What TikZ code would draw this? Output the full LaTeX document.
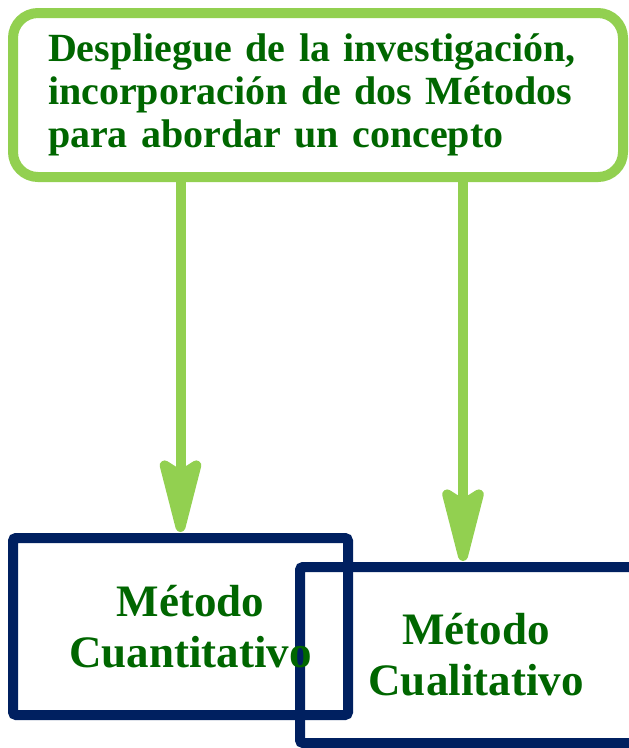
\documentclass[tikz,border=0pt]{standalone}
\usepackage{fontspec}
\setmainfont{Liberation Serif}
\usetikzlibrary{arrows.meta, positioning}
\definecolor{leafgreen}{RGB}{146,208,80}
\definecolor{textgreen}{RGB}{0,102,0}
\definecolor{navyblue}{RGB}{0,32,96}
\tikzset{
x=1pt, y=-1pt, % pixel like units, y goes down
mainbox/.style={draw=leafgreen, line width=10pt, rounded corners=25pt, minimum width=610pt, minimum height=164pt, text width=540pt, align=left, text=textgreen, font=\bfseries\fontsize{40}{43}\selectfont}, % the top box
methodbox/.style={draw=navyblue, line width=10pt, rounded corners=3pt}, % the two boxes below
methodtext/.style={text=textgreen, align=center, font=\bfseries\fontsize{45}{51}\selectfont}, % labels of the boxes
link/.style={draw=leafgreen, line width=10pt, -{Stealth[length=92pt, width=46pt, inset=14pt, round]}}, % green arrows
}

\begin{document}
\begin{tikzpicture}
      \useasboundingbox (0,0) rectangle (629,748);
      \clip (0,0) rectangle (629,748);

      \node[mainbox] (idea) at (318,95) {Despliegue de la investigación,\\incorporación de dos Métodos\\para abordar un concepto};
      \node[methodbox, minimum width=352pt, minimum height=176pt] (cual) at (476,655) {};
      \node[methodbox, minimum width=335pt, minimum height=177pt] (cuant) at (180.5,626.5) {};
      \node[methodtext] (cuanttxt) at ([xshift=10pt]cuant.center) {Método\\Cuantitativo};
      \node[methodtext] (cualtxt) at (cual.center) {Método\\Cualitativo};

      \draw[link] (idea.south -| cuant.north) -- ([yshift=1pt]cuant.north);
      \draw[link] ([xshift=145pt]idea.south) -- ([xshift=-13pt,yshift=1pt]cual.north);
    \end{tikzpicture}
\end{document}
